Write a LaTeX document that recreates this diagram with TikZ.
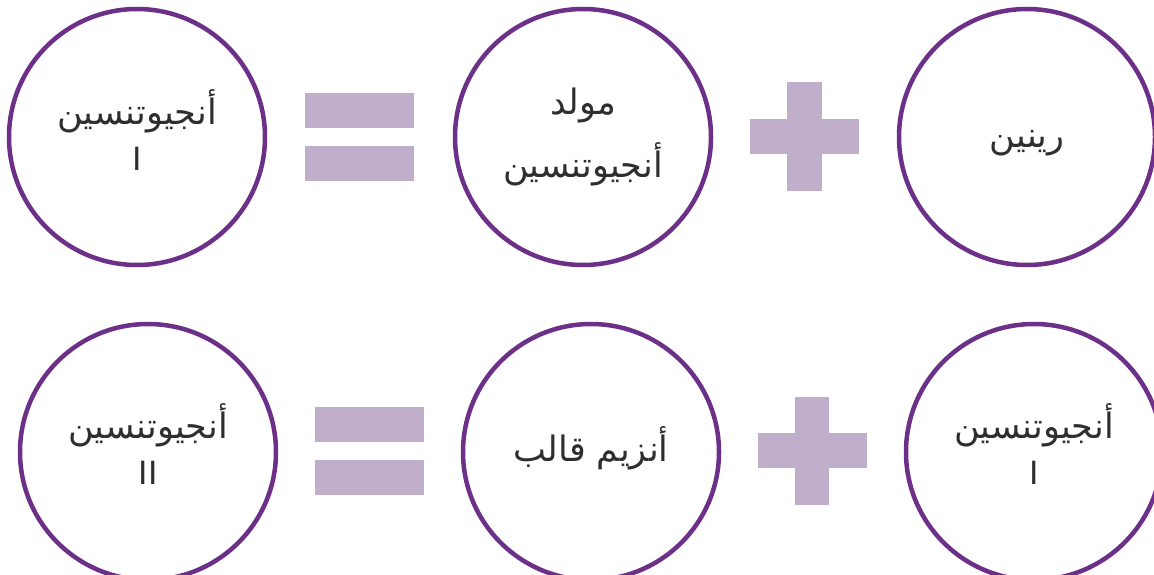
\documentclass[tikz,border=0pt]{standalone}
\usepackage{fontspec}
\setmainfont{DejaVu Sans}
\newfontfamily\arabicfont[Script=Arabic]{DejaVu Sans}
\TeXXeTstate=1
\definecolor{ringpurple}{HTML}{6C3089}
\definecolor{signlilac}{HTML}{C0AFCA}
\definecolor{txtgray}{HTML}{2E2E2E}
\begin{document}
\begin{tikzpicture}[x=1pt,y=-1pt,
  ring/.style={circle, draw=ringpurple, line width=4.5pt, minimum size=256pt,
    inner sep=0pt, fill=white},
  artext/.style={anchor=base, inner sep=0pt, text=txtgray,
    font=\arabicfont\fontsize{35}{42}\selectfont},
  latext/.style={anchor=base, inner sep=0pt, text=txtgray,
    font=\fontsize{32}{36}\selectfont},
  bar/.style={fill=signlilac}]
\useasboundingbox (0,0) rectangle (1154,575);
\clip (0,0) rectangle (1154,575);
% top row circles
\node[ring] (a1) at (137,137) {};
\node[ring] (a2) at (583,137) {};
\node[ring] (a3) at (1027,137) {};
% bottom row circles
\node[ring] (b1) at (148,452) {};
\node[ring] (b2) at (591,452) {};
\node[ring] (b3) at (1034,452) {};
% texts
\node[artext] (a1t) at (137,125) {\beginR أنجيوتنسين\endR};
\node[latext] (a1n) at (137,171) {I};
\node[artext] (a2t) at (583,115) {\beginR مولد\endR};
\node[artext] (a2u) at (583,177) {\beginR أنجيوتنسين\endR};
\node[artext] (a3t) at (1027,147) {\beginR رينين\endR};
\node[artext] (b1t) at (148,438) {\beginR أنجيوتنسين\endR};
\node[latext] (b1n) at (148,484) {II};
\node[artext] (b2t) at (591,461) {\beginR أنزيم قالب\endR};
\node[artext] (b3t) at (1034,438) {\beginR أنجيوتنسين\endR};
\node[latext] (b3n) at (1034,484) {I};
% equals signs
\fill[bar] (305,93) rectangle (414,128);
\fill[bar] (305,146) rectangle (414,181);
\fill[bar] (315,407) rectangle (424,442);
\fill[bar] (315,460) rectangle (424,495);
% plus signs
\fill[bar] (750,119) rectangle (859,154);
\fill[bar] (787,82) rectangle (822,191);
\fill[bar] (758,433) rectangle (867,468);
\fill[bar] (795,397) rectangle (829,505);
\end{tikzpicture}
\end{document}
